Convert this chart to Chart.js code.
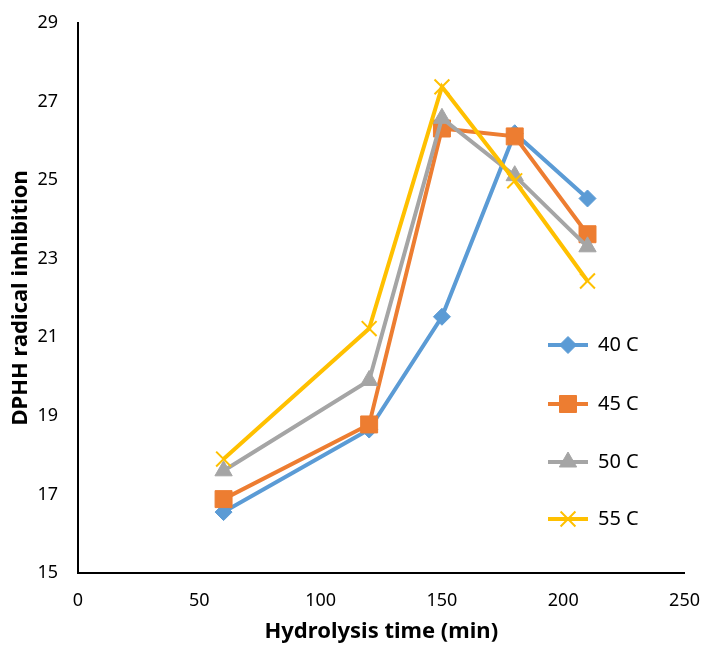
<!DOCTYPE html>
<html>
<head>
<meta charset="utf-8">
<script src="https://cdn.jsdelivr.net/npm/chart.js@4.4.0/dist/chart.umd.min.js"></script>
<style>
  html, body { margin: 0; padding: 0; background: #fff; }
  #wrap { width: 709px; height: 647px; }
</style>
</head>
<body>
<div id="wrap"><canvas id="miGrafico"></canvas></div>
<script>
const times = [60, 120, 150, 180, 210];
const temps = ['40 C', '45 C', '50 C', '55 C'];

const inhib40 = [16.55, 18.65, 21.52, 26.19, 24.53];
const inhib45 = [16.88, 18.78, 26.31, 26.11, 23.62];
const inhib50 = [17.6, 19.9, 26.57, 25.11, 23.3];
const inhib55 = [17.9, 21.22, 27.37, 24.98, 22.43];

const xTicks = [0, 50, 100, 150, 200, 250];
const yTicks = [15, 17, 19, 21, 23, 25, 27, 29];

const colores = ['#5B9BD5', '#ED7D31', '#A5A5A5', '#FFC000'];
const formas = ['rectRot', 'rect', 'triangle', 'crossRot'];
const radios = [8.5, 12, 10, 10.5];
const series = [inhib40, inhib45, inhib50, inhib55];

const toPoints = (vals) => vals.map((v, i) => ({ x: times[i], y: v }));

const datasets = series.map((vals, i) => ({
    label: temps[i],
    data: toPoints(vals),
    borderColor: colores[i],
    backgroundColor: colores[i],
    borderWidth: 4,
    pointStyle: formas[i],
    pointRadius: radios[i],
    pointBorderWidth: formas[i] === 'crossRot' ? 2 : 1,
    pointBackgroundColor: colores[i],
    pointBorderColor: colores[i],
    tension: 0,
    order: 4 - i
}));

// leyenda dibujada dentro del area del grafico, como en Excel
const leyenda = {
    id: 'leyenda',
    afterDatasetsDraw(chart) {
        const ctx = chart.ctx;
        const filas = [345, 404, 462, 519];
        ctx.save();
        temps.forEach((t, i) => {
            const y = filas[i];
            ctx.strokeStyle = colores[i];
            ctx.lineWidth = 4;
            ctx.beginPath();
            ctx.moveTo(548, y);
            ctx.lineTo(588, y);
            ctx.stroke();
            ctx.fillStyle = colores[i];
            ctx.strokeStyle = colores[i];
            ctx.lineWidth = formas[i] === 'crossRot' ? 2 : 1;
            Chart.helpers.drawPoint(ctx, { pointStyle: formas[i], radius: radios[i], borderWidth: ctx.lineWidth }, 568, y);
            ctx.fillStyle = '#000';
            ctx.font = '20px "Noto Sans"';
            ctx.textBaseline = 'middle';
            ctx.textAlign = 'left';
            ctx.fillText(t, 598, y);
        });
        ctx.restore();
    }
};

const ctx = document.getElementById('miGrafico').getContext('2d');

new Chart(ctx, {
    type: 'line',
    data: { datasets: datasets },
    plugins: [leyenda],
    options: {
        responsive: true,
        maintainAspectRatio: false,
        animation: false,
        layout: { padding: { top: 15, right: 16, left: 0, bottom: 0 } },
        plugins: {
            legend: { display: false },
            tooltip: { enabled: false }
        },
        scales: {
            x: {
                type: 'linear',
                min: 0,
                max: 250,
                afterBuildTicks: (s) => { s.ticks = xTicks.map(v => ({ value: v })); },
                afterFit: (s) => { s.height = 74; },
                grid: { display: false },
                border: { display: true, color: '#000', width: 2 },
                ticks: { color: '#000', padding: 9, font: { family: 'Noto Sans', size: 18 } },
                title: {
                    display: true,
                    text: 'Hydrolysis time (min)',
                    color: '#000',
                    font: { family: 'Noto Sans', size: 22, weight: 'bold' },
                    padding: { top: 0, bottom: 2 }
                }
            },
            y: {
                min: 15,
                max: 29,
                afterBuildTicks: (s) => { s.ticks = yTicks.map(v => ({ value: v })); },
                afterFit: (s) => { s.width = 78; },
                grid: { display: false },
                border: { display: true, color: '#000', width: 2 },
                ticks: { color: '#000', padding: 12, font: { family: 'Noto Sans', size: 18 } },
                title: {
                    display: true,
                    text: 'DPHH radical inhibition',
                    color: '#000',
                    font: { family: 'Noto Sans', size: 22, weight: 'bold' },
                    padding: { top: 8, bottom: 0 }
                }
            }
        }
    }
});
</script>
</body>
</html>
